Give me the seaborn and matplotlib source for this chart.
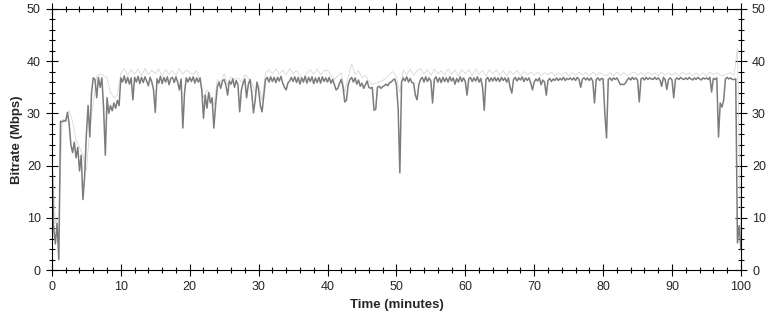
import numpy as np
import pandas as pd
import matplotlib
matplotlib.use("Agg")
import matplotlib.pyplot as plt
from matplotlib.ticker import MultipleLocator
import seaborn as sns

blk_00 = [22, 8, 5, 9, 2, 28.5, 28.4, 28.6, 28.5, 30.2, 28, 24, 22.5, 24.5, 21.5, 23.5, 19, 22, 13.5, 18]
blk_05 = [26, 31.5, 25.5, 34, 36.8, 36.5, 33, 36.9, 35, 36.8, 31, 22, 33, 30, 31.5, 30.5, 32, 31, 32.5, 31.5]
blk_10 = [36.8, 36.0, 37.2, 35.8, 36.9, 35.6, 36.8, 32.6, 36.9, 36.0, 37.1, 35.7, 36.9, 35.9, 37.0, 36.2, 35.3, 36.9, 36.0, 34.5]
blk_15 = [30.2, 36.6, 35.8, 37.1, 35.7, 36.9, 36.0, 37.0, 35.5, 36.7, 36.9, 35.9, 37.0, 36.0, 34.5, 36.6, 27.2, 34.0, 36.8, 36.0]
blk_20 = [36.9, 36.1, 37.0, 35.8, 36.8, 36.0, 36.8, 34.5, 29.1, 33.5, 31.0, 34.0, 32.0, 33.0, 27.2, 31.5, 35.0, 36.0, 34.8, 36.2]
blk_25 = [36.5, 35.4, 33.5, 36.2, 35.6, 36.6, 35.0, 36.3, 35.5, 30.3, 34.5, 35.8, 36.6, 33.0, 35.5, 36.5, 34.0, 30.1, 32.5, 36.0]
blk_30 = [34.5, 31.5, 30.3, 33.5, 36.5, 36.9, 36.0, 37.0, 36.1, 36.9, 35.9, 36.9, 36.2, 37.1, 35.8, 35.0, 34.5, 35.8, 36.2, 36.9]
blk_35 = [36.1, 37.0, 35.9, 36.9, 35.6, 36.8, 36.0, 37.1, 35.8, 36.9, 36.1, 37.0, 35.7, 36.8, 35.9, 36.9, 35.8, 37.0, 36.1, 36.8]
blk_40 = [36.0, 36.9, 35.8, 36.5, 35.5, 34.5, 34.8, 35.8, 36.5, 35.0, 32.2, 32.5, 35.5, 36.5, 36.9, 36.0, 36.8, 35.6, 36.4, 35.2]
blk_45 = [35.8, 34.8, 35.5, 36.2, 35.0, 34.8, 35.0, 30.6, 30.8, 35.0, 35.2, 34.8, 35.1, 35.3, 35.6, 35.3, 35.9, 36.0, 36.4, 36.6]
blk_50 = [35.5, 31.0, 18.6, 36.0, 36.8, 36.2, 37.0, 36.0, 36.7, 35.9, 35.8, 33.5, 32.6, 35.5, 36.5, 36.9, 36.0, 37.0, 36.1, 36.8]
blk_55 = [36.2, 32.0, 36.5, 37.0, 36.0, 36.8, 35.9, 36.9, 36.1, 36.8, 36.0, 37.0, 36.2, 36.8, 35.6, 36.7, 36.0, 37.0, 36.1, 36.8]
blk_60 = [36.1, 33.5, 36.6, 36.9, 36.1, 36.8, 36.2, 37.0, 36.0, 36.7, 35.0, 30.6, 36.5, 36.9, 36.1, 36.8, 36.2, 36.9, 36.2, 36.8]
blk_65 = [36.1, 36.9, 36.3, 36.8, 36.0, 36.8, 35.0, 33.9, 36.5, 36.9, 36.2, 36.8, 36.4, 37.0, 36.1, 36.8, 36.3, 36.8, 35.8, 34.5]
blk_70 = [36.0, 36.6, 36.2, 36.8, 35.5, 36.4, 36.0, 33.5, 36.3, 36.7, 36.1, 36.6, 36.3, 36.8, 36.3, 36.7, 36.4, 36.9, 36.3, 36.7]
blk_75 = [36.5, 36.8, 36.4, 36.8, 36.3, 36.9, 36.5, 35.0, 36.6, 36.8, 36.4, 36.8, 36.3, 36.8, 36.2, 32.0, 36.5, 36.8, 36.3, 36.7]
blk_80 = [36.6, 30.0, 25.3, 36.5, 36.8, 36.3, 36.8, 36.5, 36.8, 36.2, 35.5, 35.6, 35.5, 35.8, 36.4, 36.8, 36.4, 36.9, 36.5, 36.8]
blk_85 = [36.4, 32.2, 36.6, 36.8, 36.4, 36.9, 36.5, 36.8, 36.6, 36.5, 36.9, 36.5, 36.8, 36.4, 35.2, 36.9, 36.5, 34.6, 36.5, 36.8]
blk_90 = [36.4, 33.0, 36.5, 36.8, 36.5, 36.9, 36.6, 36.5, 36.8, 36.5, 36.9, 36.6, 36.4, 36.8, 36.5, 36.9, 36.6, 36.4, 36.8, 36.6]
blk_95 = [36.8, 36.5, 36.9, 34.1, 36.7, 36.5, 36.8, 25.5, 32.0, 31.2, 32.5, 36.6, 36.9, 36.6, 36.8, 36.5, 36.5, 36.6, 5.2, 8.5]
blk_end = [4.0]

# short peaks (lighter trace), sampled every 0.5 minutes
peak_00 = [22, 9, 10, 28.8, 29, 30.5, 28.5, 25, 23.5, 22, 19, 27, 32, 37.2, 37.5, 37.3, 36.8, 34, 33, 33.5]
peak_10 = [37.6, 38.6, 37.3, 38.4, 37.5, 38.5, 37.2, 38.6, 37.4, 38.3, 37.6, 38.5, 37.2, 38.4, 37.5, 38.2, 37.3, 38.6, 37.5, 38.3]
peak_20 = [37.9, 37.4, 38.2, 36.0, 33.0, 34.5, 33.5, 31.5, 36.5, 36.0, 37.6, 35.5, 37.0, 36.5, 36.8, 36.0, 37.4, 36.8, 36.0, 34.0]
peak_30 = [35.5, 32.5, 37.8, 38.4, 37.6, 38.5, 37.5, 38.3, 37.4, 38.6, 37.6, 38.2, 37.3, 36.5, 37.8, 38.4, 37.5, 38.5, 37.4, 38.2]
peak_40 = [38.2, 37.4, 36.5, 37.2, 37.8, 34.0, 37.0, 39.5, 37.5, 38.2, 36.8, 37.3, 36.2, 35.5, 35.8, 36.0, 36.3, 36.8, 37.5, 38.0]
peak_50 = [37.0, 34.0, 38.3, 37.4, 38.5, 37.3, 38.2, 38.6, 37.5, 38.4, 37.3, 38.5, 37.6, 38.2, 37.4, 38.6, 37.5, 38.3, 37.2, 38.4]
peak_60 = [37.6, 38.4, 37.3, 38.5, 37.5, 38.2, 37.2, 38.4, 37.6, 38.3, 37.3, 38.2, 37.2, 38.1, 37.5, 38.2, 37.3, 38.0, 37.4, 37.9]
peak_70 = [37.3, 37.9, 37.2, 37.8, 37.4, 37.9, 37.2, 37.8, 37.3, 37.9, 37.2, 37.8, 37.3, 37.9, 37.4, 37.8, 37.2, 37.9, 37.3, 37.8]
peak_80 = [37.4, 37.2, 37.8, 37.2, 37.9, 37.3, 37.8, 37.2, 37.6, 37.9, 37.3, 37.8, 37.2, 37.9, 37.4, 37.8, 37.2, 37.9, 37.3, 37.8]
peak_90 = [37.3, 37.8, 37.2, 37.9, 37.4, 37.8, 37.2, 37.7, 37.3, 37.8, 37.2, 37.9, 37.4, 37.8, 37.3, 37.2, 37.6, 37.8, 37.3, 42.5]
peak_end = [5.0]

bitrate = (blk_00 + blk_05 + blk_10 + blk_15 + blk_20 + blk_25 + blk_30 + blk_35 + blk_40 + blk_45
           + blk_50 + blk_55 + blk_60 + blk_65 + blk_70 + blk_75 + blk_80 + blk_85 + blk_90 + blk_95 + blk_end)
peaks = (peak_00 + peak_10 + peak_20 + peak_30 + peak_40 + peak_50 + peak_60 + peak_70 + peak_80
         + peak_90 + peak_end)

df = pd.DataFrame({"time": np.linspace(0, 100, len(bitrate)), "bitrate": bitrate})
dfp = pd.DataFrame({"time": np.linspace(0, 100, len(peaks)), "bitrate": peaks})

sns.set_style("ticks")
plt.rcParams["font.family"] = ["Liberation Sans", "DejaVu Sans"]

fig = plt.figure(figsize=(7.75, 3.2), dpi=100)
ax = fig.add_axes([0.067, 0.156, 0.889, 0.816])

sns.lineplot(data=dfp, x="time", y="bitrate", ax=ax, color="#d2d2d2", linewidth=0.5, estimator=None)
sns.lineplot(data=df, x="time", y="bitrate", ax=ax, color="#7c7c7c", linewidth=1.1, estimator=None)

ax.set_xlim(0, 100)
ax.set_ylim(0, 50)
ax.xaxis.set_major_locator(MultipleLocator(10))
ax.xaxis.set_minor_locator(MultipleLocator(2))
ax.yaxis.set_major_locator(MultipleLocator(10))
ax.yaxis.set_minor_locator(MultipleLocator(2))
ax.tick_params(which="both", direction="inout", top=True, right=True, labelright=True,
               labelsize=9, color="black", width=0.8)
ax.tick_params(which="major", length=8, pad=4)
ax.tick_params(which="minor", length=4)
for s in ax.spines.values():
    s.set_color("black")
    s.set_linewidth(0.8)

ax.set_xlabel("Time (minutes)", fontsize=9.5, fontweight="bold", labelpad=4)
ax.set_ylabel("Bitrate (Mbps)", fontsize=9.5, fontweight="bold", labelpad=3)

fig.savefig("out.png", dpi=100)
